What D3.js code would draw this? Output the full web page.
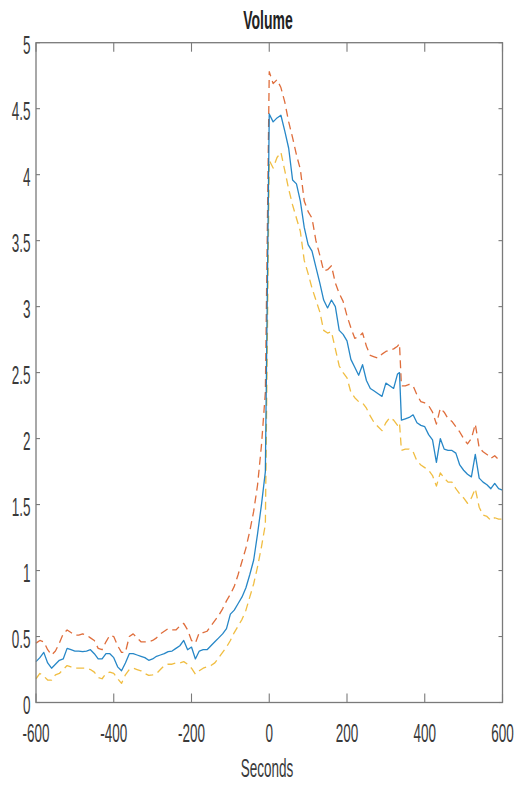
<!DOCTYPE html>
<html>
<head>
<meta charset="utf-8">
<script src="https://cdn.jsdelivr.net/npm/d3@7"></script>
<style>
  html, body { margin: 0; padding: 0; background: #fff; }
  svg { display: block; }
</style>
</head>
<body>
<svg id="chart" width="516" height="785"></svg>
<script>
const seconds = [
  -600,-590,-580,-570,-560,-550,-540,-530,-520,-510,
  -500,-490,-480,-470,-460,-450,-440,-430,-420,-410,
  -400,-390,-380,-370,-360,-350,-340,-330,-320,-310,
  -300,-290,-280,-270,-260,-250,-240,-230,-220,-210,
  -200,-190,-180,-170,-160,-150,-140,-130,-120,-110,
  -100,-90,-80,-70,-60,-50,-40,-30,-20,-10,
  0,10,20,30,40,50,60,70,80,90,
  100,110,120,130,140,150,160,170,180,190,
  200,210,220,230,240,250,260,270,280,290,
  300,310,320,330,
  335,
  340,350,360,370,380,390,400,410,420,430,
  440,450,460,470,480,490,500,510,520,530,
  540,550,560,570,580,590,600
];

const meanVolume = [
  0.31,0.34,0.38,0.30,0.26,0.29,0.32,0.33,0.41,0.40,
  0.39,0.39,0.385,0.39,0.40,0.37,0.33,0.33,0.37,0.37,
  0.34,0.27,0.24,0.30,0.37,0.37,0.36,0.35,0.34,0.32,
  0.33,0.35,0.36,0.37,0.385,0.39,0.41,0.43,0.47,0.40,
  0.42,0.33,0.39,0.40,0.40,0.43,0.46,0.49,0.52,0.56,
  0.67,0.70,0.75,0.80,0.87,0.97,1.08,1.28,1.50,1.75,
  4.46,4.40,4.43,4.45,4.33,4.20,3.96,3.93,3.80,3.60,
  3.47,3.42,3.30,3.18,3.05,2.99,3.05,3.00,2.82,2.79,
  2.74,2.60,2.54,2.48,2.56,2.44,2.38,2.36,2.34,2.32,
  2.42,2.40,2.38,2.49,
  2.50,
  2.14,2.15,2.16,2.18,2.12,2.10,2.09,2.03,1.99,1.82,
  2.00,1.92,1.91,1.91,1.89,1.80,1.76,1.73,1.71,1.88,
  1.70,1.67,1.65,1.62,1.66,1.62,1.61
];

const upperVolume = [
  0.45,0.47,0.46,0.40,0.36,0.39,0.45,0.52,0.55,0.53,
  0.51,0.51,0.52,0.51,0.49,0.47,0.41,0.40,0.46,0.51,
  0.50,0.43,0.38,0.38,0.50,0.52,0.49,0.46,0.46,0.46,
  0.47,0.49,0.52,0.54,0.56,0.55,0.55,0.58,0.60,0.55,
  0.47,0.45,0.53,0.53,0.54,0.58,0.62,0.66,0.71,0.77,
  0.82,0.88,0.97,1.07,1.17,1.30,1.45,1.65,1.95,2.35,
  4.78,4.69,4.72,4.66,4.55,4.40,4.28,4.15,4.04,3.80,
  3.72,3.67,3.50,3.39,3.27,3.28,3.31,3.18,3.10,3.04,
  2.93,2.84,2.76,2.77,2.80,2.70,2.63,2.62,2.61,2.64,
  2.66,2.67,2.68,2.70,
  2.72,
  2.40,2.40,2.41,2.40,2.33,2.28,2.27,2.25,2.20,2.11,
  2.23,2.20,2.15,2.13,2.09,2.05,2.00,1.96,2.00,2.11,
  1.93,1.90,1.88,1.85,1.87,1.84,1.84
];

const lowerVolume = [
  0.18,0.22,0.20,0.17,0.17,0.21,0.22,0.25,0.28,0.27,
  0.26,0.26,0.26,0.26,0.25,0.23,0.19,0.18,0.22,0.23,
  0.22,0.18,0.145,0.21,0.25,0.26,0.25,0.24,0.22,0.205,
  0.21,0.22,0.25,0.28,0.29,0.29,0.30,0.30,0.31,0.29,
  0.26,0.215,0.24,0.26,0.27,0.28,0.30,0.34,0.38,0.42,
  0.47,0.53,0.58,0.63,0.70,0.80,0.90,1.03,1.18,1.35,
  4.11,4.05,4.13,4.17,4.03,3.89,3.77,3.67,3.57,3.35,
  3.25,3.14,3.05,2.96,2.82,2.80,2.81,2.68,2.55,2.50,
  2.46,2.35,2.31,2.28,2.27,2.23,2.17,2.12,2.09,2.06,
  2.12,2.16,2.14,2.10,
  2.12,
  1.91,1.92,1.92,1.90,1.83,1.80,1.78,1.76,1.72,1.64,
  1.74,1.70,1.67,1.67,1.62,1.58,1.55,1.51,1.55,1.62,
  1.48,1.42,1.41,1.38,1.40,1.39,1.39
];

const xTicks = [-600, -400, -200, 0, 200, 400, 600];
const yTicks = [0, 0.5, 1, 1.5, 2, 2.5, 3, 3.5, 4, 4.5, 5];
const xTickLabels = ["-600", "-400", "-200", "0", "200", "400", "600"];
const yTickLabels = ["0", "0.5", "1", "1.5", "2", "2.5", "3", "3.5", "4", "4.5", "5"];
const titleText = "Volume";
const xLabelText = "Seconds";

const series = [
  { name: "upper", values: upperVolume, color: "#D95319", dash: "8,5" },
  { name: "lower", values: lowerVolume, color: "#EDB120", dash: "8,5" },
  { name: "mean",  values: meanVolume,  color: "#0072BD", dash: null }
];

const L = 36, R = 502.5, T = 42.7, B = 702.5;
const SY = 1.85;           // vertical stretch of the text
const FONT = "'Liberation Sans', Arial, Helvetica, sans-serif";
const axisColor = "#7a7a7a";
const textColor = "#3a3a3a";

const x = d3.scaleLinear().domain([-600, 600]).range([L, R]);
const y = d3.scaleLinear().domain([0, 5]).range([B, T]);

const svg = d3.select("#chart");

// lines
const line = d3.line()
  .x((d, i) => x(seconds[i]))
  .y(d => y(d));

series.forEach(s => {
  svg.append("path")
    .datum(s.values)
    .attr("fill", "none")
    .attr("stroke", s.color)
    .attr("stroke-width", 1.3)
    .attr("stroke-opacity", 0.85)
    .attr("stroke-dasharray", s.dash)
    .attr("stroke-linejoin", "round")
    .attr("d", line);
});

// box
svg.append("rect")
  .attr("x", L).attr("y", T)
  .attr("width", R - L).attr("height", B - T)
  .attr("fill", "none")
  .attr("stroke", axisColor)
  .attr("stroke-width", 1.3);

// x ticks (top and bottom, inward)
xTicks.forEach((t, i) => {
  const px = x(t);
  svg.append("line").attr("x1", px).attr("x2", px).attr("y1", B).attr("y2", B - 9)
    .attr("stroke", axisColor).attr("stroke-width", 1.1);
  svg.append("line").attr("x1", px).attr("x2", px).attr("y1", T).attr("y2", T + 9)
    .attr("stroke", axisColor).attr("stroke-width", 1.1);
  svg.append("text")
    .attr("transform", `translate(${px},${742}) scale(1,${SY})`)
    .attr("text-anchor", "middle")
    .attr("font-family", FONT)
    .attr("font-size", 13.5)
    .attr("fill", textColor)
    .text(xTickLabels[i]);
});

// y ticks (left and right, inward)
yTicks.forEach((t, i) => {
  const py = y(t);
  svg.append("line").attr("x1", L).attr("x2", L + 4).attr("y1", py).attr("y2", py)
    .attr("stroke", axisColor).attr("stroke-width", 1.1);
  svg.append("line").attr("x1", R).attr("x2", R - 4).attr("y1", py).attr("y2", py)
    .attr("stroke", axisColor).attr("stroke-width", 1.1);
  svg.append("text")
    .attr("transform", `translate(${30.5},${py + 11}) scale(1,${SY})`)
    .attr("text-anchor", "end")
    .attr("font-family", FONT)
    .attr("font-size", 13.5)
    .attr("fill", textColor)
    .text(yTickLabels[i]);
});

// title
svg.append("text")
  .attr("transform", `translate(${268},${29.3}) scale(1,${SY})`)
  .attr("text-anchor", "middle")
  .attr("font-family", FONT)
  .attr("font-size", 14)
  .attr("font-weight", "bold")
  .attr("fill", "#222")
  .text(titleText);

// x label
svg.append("text")
  .attr("transform", `translate(${267},${777}) scale(1,${SY})`)
  .attr("text-anchor", "middle")
  .attr("font-family", FONT)
  .attr("font-size", 13.5)
  .attr("fill", textColor)
  .text(xLabelText);
</script>
</body>
</html>
